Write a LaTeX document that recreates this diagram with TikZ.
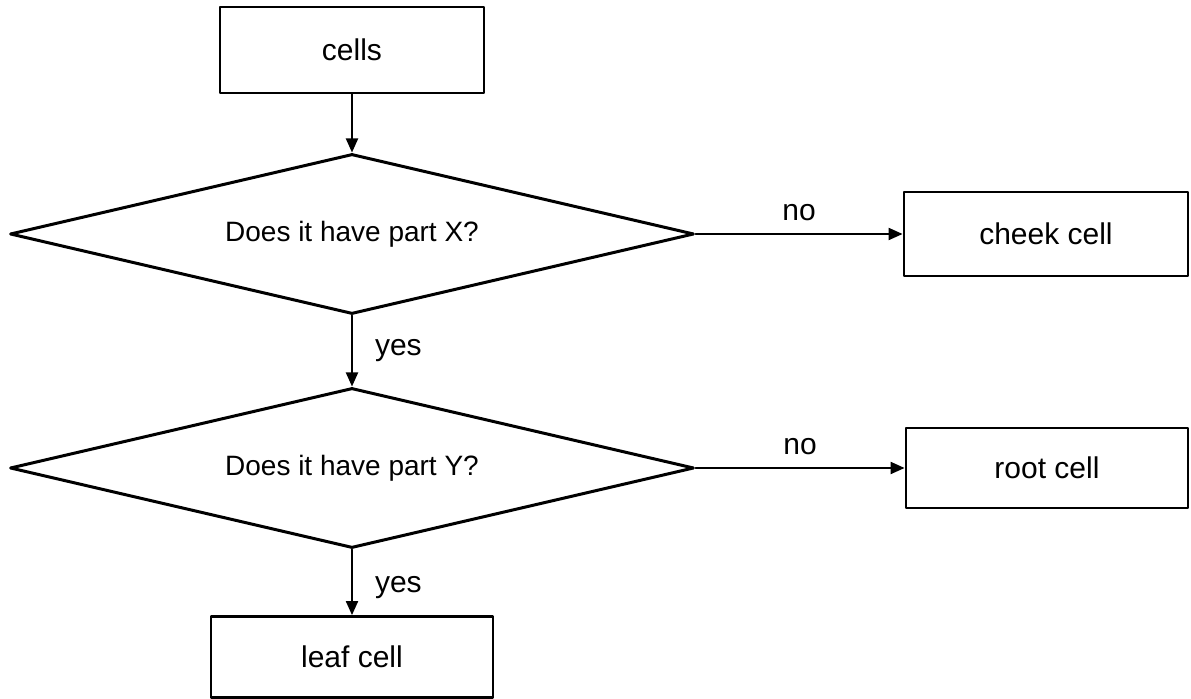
\documentclass[tikz,border=0pt]{standalone}
\usepackage{fontspec}
\setmainfont{Liberation Sans}
\usetikzlibrary{shapes.geometric,arrows.meta}

\begin{document}
\begin{tikzpicture}[
  x=0.5pt,
  y=-0.5pt,
  line cap=round,
  line join=round,
  box/.style={
    draw,
    line width=1.4pt,
    minimum width=#1,
    minimum height=42pt,
    inner sep=0pt,
    font=\fontsize{15}{18}\selectfont
  },
  question/.style={
    draw,
    diamond,
    aspect=4.275,
    line width=1.5pt,
    minimum width=342pt,
    minimum height=80pt,
    inner sep=0pt,
    font=\fontsize{14}{17}\selectfont
  },
  link/.style={
    line width=1pt,
    -{Triangle[length=7pt,width=6pt]}
  },
  answer/.style={
    inner sep=0pt,
    font=\fontsize{15}{18}\selectfont
  }
]
  \useasboundingbox (0,0) rectangle (1191,699);

  % Начальный блок
  \node[box=132pt, minimum height=43pt] (cells) at (352,50) {cells};

  % Вопросы
  \node[question] (partX) at (352,234) {Does it have part X?};
  \node[question] (partY) at (352,468) {Does it have part Y?};

  % Ответы
  \node[box=142pt] (cheek) at (1046,234) {cheek cell};
  \node[box=141pt, minimum height=40pt] (root) at (1047,468) {root cell};
  \node[box=141pt, minimum height=40.5pt] (leaf) at (352,657) {leaf cell};

  % Стрелки
  \draw[link] (cells) -- (partX);
  \draw[link] (partX) -- node[answer, above=6pt] {no} (cheek);
  \draw[link] (partX) -- node[answer, right=11pt] {yes} (partY);
  \draw[link] (partY) -- node[answer, above=6pt] {no} (root);
  \draw[link] (partY) -- node[answer, right=11pt, pos=0.58] {yes} (leaf);
\end{tikzpicture}
\end{document}
